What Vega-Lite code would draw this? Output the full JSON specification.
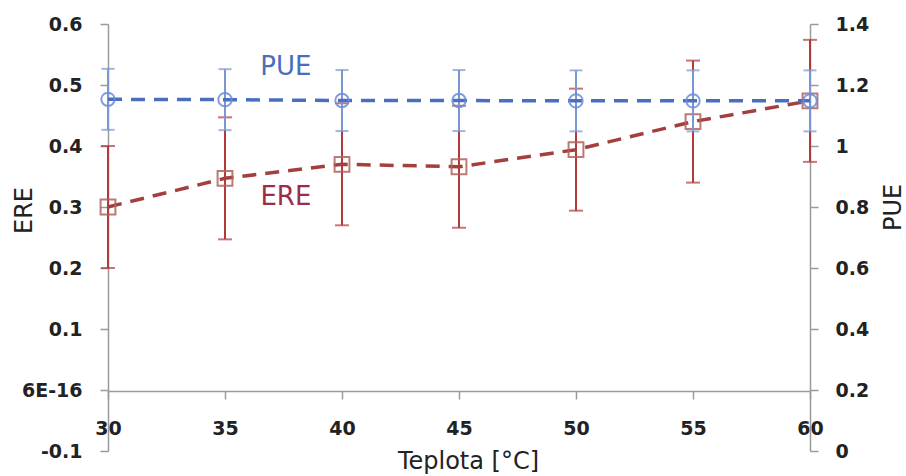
{
  "$schema": "https://vega.github.io/schema/vega-lite/v6.json",
  "width": 702,
  "height": 427,
  "autosize": {"type": "none"},
  "padding": {"left": 108, "top": 24, "right": 96, "bottom": 25},
  "background": "white",
  "config": {
    "view": {"stroke": null},
    "axis": {
      "grid": false,
      "domainColor": "#9a9a9a",
      "domainWidth": 1.5,
      "tickColor": "#9a9a9a",
      "tickWidth": 1.5,
      "tickSize": 8,
      "labelFont": "DejaVu Sans",
      "labelFontWeight": "bold",
      "labelFontSize": 19,
      "labelColor": "#222222",
      "labelFlush": false,
      "labelOverlap": false,
      "titleFont": "DejaVu Sans",
      "titleFontWeight": "normal",
      "titleFontSize": 24,
      "titleColor": "#222222"
    }
  },
  "layer": [
    {
      "data": {"values": [
        {"t": 30, "ere": 0.300, "lo": 0.200, "hi": 0.400},
        {"t": 35, "ere": 0.347, "lo": 0.247, "hi": 0.447},
        {"t": 40, "ere": 0.370, "lo": 0.270, "hi": 0.470},
        {"t": 45, "ere": 0.366, "lo": 0.266, "hi": 0.466},
        {"t": 50, "ere": 0.394, "lo": 0.294, "hi": 0.494},
        {"t": 55, "ere": 0.440, "lo": 0.340, "hi": 0.540},
        {"t": 60, "ere": 0.474, "lo": 0.374, "hi": 0.574}
      ]},
      "encoding": {
        "x": {
          "field": "t", "type": "quantitative",
          "scale": {"domain": [30, 60], "nice": false, "zero": false},
          "axis": {
            "title": "Teplota [°C]",
            "values": [30, 35, 40, 45, 50, 55, 60],
            "format": "d",
            "offset": -60,
            "labelPadding": 20,
            "titleX": 360,
            "titleY": 77,
            "titleBaseline": "alphabetic",
            "titleAlign": "center"
          }
        },
        "y": {
          "field": "ere", "type": "quantitative",
          "scale": {"domain": [-0.1, 0.6], "nice": false, "zero": false},
          "axis": {
            "title": "ERE",
            "orient": "left",
            "values": [-0.1, 0, 0.1, 0.2, 0.3, 0.4, 0.5, 0.6],
            "labelExpr": "datum.value < -0.05 ? '-0.1' : (abs(datum.value) < 1e-9 ? '6E-16' : format(datum.value, '.1f'))",
            "labelPadding": 18,
            "titleAngle": -90,
            "titleX": -84,
            "titleY": 186,
            "titleAlign": "center",
            "titleBaseline": "middle"
          }
        }
      },
      "layer": [
        {
          "mark": {"type": "rule", "color": "#b23a3a", "strokeWidth": 2},
          "encoding": {
            "y": {"field": "lo", "type": "quantitative"},
            "y2": {"field": "hi"}
          }
        },
        {
          "mark": {"type": "tick", "orient": "horizontal", "color": "#b23a3a", "size": 14, "thickness": 2},
          "encoding": {"y": {"field": "lo", "type": "quantitative"}}
        },
        {
          "mark": {"type": "tick", "orient": "horizontal", "color": "#b23a3a", "size": 14, "thickness": 2},
          "encoding": {"y": {"field": "hi", "type": "quantitative"}}
        },
        {
          "mark": {"type": "line", "color": "#a33f3c", "strokeWidth": 3.5, "strokeDash": [14, 9]},
          "encoding": {"y": {"field": "ere", "type": "quantitative"}}
        },
        {
          "mark": {"type": "point", "shape": "square", "filled": false, "color": "#b0645c", "size": 220, "strokeWidth": 2, "opacity": 0.85},
          "encoding": {"y": {"field": "ere", "type": "quantitative"}}
        },
        {
          "data": {"values": [
            {"t": 37.6, "v": 0.5295, "label": "PUE"},
            {"t": 37.6, "v": 0.316, "label": "ERE"}
          ]},
          "mark": {"type": "text", "font": "DejaVu Sans", "fontSize": 26, "align": "center", "baseline": "middle"},
          "encoding": {
            "y": {"field": "v", "type": "quantitative"},
            "text": {"field": "label"},
            "color": {"field": "label", "type": "nominal", "scale": {"domain": ["PUE", "ERE"], "range": ["#4a6dbd", "#9c2d4a"]}, "legend": null}
          }
        }
      ]
    },
    {
      "data": {"values": [
        {"t": 30, "pue": 1.153, "lo": 1.053, "hi": 1.253},
        {"t": 35, "pue": 1.152, "lo": 1.052, "hi": 1.252},
        {"t": 40, "pue": 1.149, "lo": 1.049, "hi": 1.249},
        {"t": 45, "pue": 1.149, "lo": 1.049, "hi": 1.249},
        {"t": 50, "pue": 1.148, "lo": 1.048, "hi": 1.248},
        {"t": 55, "pue": 1.148, "lo": 1.048, "hi": 1.248},
        {"t": 60, "pue": 1.148, "lo": 1.048, "hi": 1.248}
      ]},
      "encoding": {
        "x": {"field": "t", "type": "quantitative"},
        "y": {
          "field": "pue", "type": "quantitative",
          "scale": {"domain": [0, 1.4], "nice": false, "zero": false},
          "axis": {
            "title": "PUE",
            "orient": "right",
            "values": [0, 0.2, 0.4, 0.6, 0.8, 1, 1.2, 1.4],
            "labelExpr": "format(datum.value, '~g')",
            "labelPadding": 17,
            "titleAngle": -90,
            "titleX": 83,
            "titleY": 183,
            "titleAlign": "center",
            "titleBaseline": "middle"
          }
        }
      },
      "layer": [
        {
          "mark": {"type": "rule", "color": "#7b96d2", "strokeWidth": 2},
          "encoding": {
            "y": {"field": "lo", "type": "quantitative"},
            "y2": {"field": "hi"}
          }
        },
        {
          "mark": {"type": "tick", "orient": "horizontal", "color": "#7b96d2", "size": 13, "thickness": 2},
          "encoding": {"y": {"field": "lo", "type": "quantitative"}}
        },
        {
          "mark": {"type": "tick", "orient": "horizontal", "color": "#7b96d2", "size": 13, "thickness": 2},
          "encoding": {"y": {"field": "hi", "type": "quantitative"}}
        },
        {
          "mark": {"type": "line", "color": "#4a6fc0", "strokeWidth": 3.5, "strokeDash": [14, 9]},
          "encoding": {"y": {"field": "pue", "type": "quantitative"}}
        },
        {
          "mark": {"type": "point", "shape": "circle", "filled": false, "color": "#6a8dd8", "size": 180, "strokeWidth": 2, "opacity": 0.85},
          "encoding": {"y": {"field": "pue", "type": "quantitative"}}
        }
      ]
    }
  ],
  "resolve": {"scale": {"y": "independent", "color": "independent"}}
}
